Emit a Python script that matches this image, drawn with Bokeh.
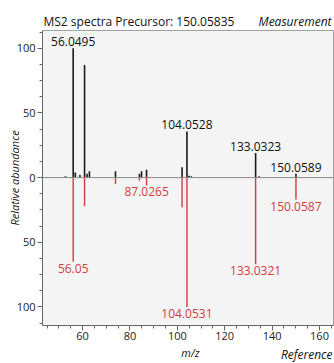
from bokeh.plotting import figure
from bokeh.layouts import column
from bokeh.models import Label, Span, FixedTicker, Range1d, ColumnDataSource
from bokeh.embed import file_html
from bokeh.resources import INLINE
from bokeh.core.properties import value

# Measurement peaks (positive)
meas_mz = [52.8, 56.0495, 56.95, 58.9, 60.85, 61.9, 62.9, 73.9, 84.0, 84.9, 87.0, 102.0, 104.0528, 104.9, 105.9, 133.0323, 134.5, 150.0589]
meas_int = [1, 100, 4, 2, 87, 3, 5, 5, 3, 5, 6, 8, 35.7, 1.5, 1, 19, 1, 3]

# Reference peaks (drawn downward)
ref_mz = [56.05, 60.85, 73.9, 84.0, 87.0265, 102.0, 104.0531, 133.0321, 150.0587]
ref_int = [65, 22, 5, 2.5, 6, 23, 100, 67, 17]

# Annotated peaks
meas_lab_mz = [56.0495, 104.0528, 133.0323, 150.0589]
meas_lab_int = [100, 35.7, 19, 3]
meas_lab_txt = ["56.0495", "104.0528", "133.0323", "150.0589"]

ref_lab_mz = [56.05, 87.0265, 104.0531, 133.0321, 150.0587]
ref_lab_int = [65, 6, 100, 67, 17]
ref_lab_txt = ["56.05", "87.0265", "104.0531", "133.0321", "150.0587"]

x_ticks = [60, 80, 100, 120, 140, 160]
y_ticks = [-100, -50, 0, 50, 100]
y_tick_labels = ["100", "50", "0", "50", "100"]

FONT = "Open Sans"
RED = "#d23b3f"
W = 334
LEFT = 42
RIGHT = 1


def strip(h):
    f = figure(width=W, height=h, x_range=Range1d(0, 1), y_range=Range1d(0, 1),
               x_axis_type=None, y_axis_type=None, toolbar_location=None,
               output_backend="svg", min_border_left=LEFT, min_border_right=RIGHT,
               min_border_top=0, min_border_bottom=0, outline_line_color=None)
    f.grid.visible = False
    f.background_fill_color = "white"
    return f


def lab(fig, text, x, y, align="left", italic=False, size="12px", color="#111111"):
    fig.add_layout(Label(x=x, y=y, x_units="screen", y_units="screen", text=text,
                         text_align=align, text_baseline="middle",
                         text_font=FONT, text_font_size=size, text_color=color,
                         text_font_style="italic" if italic else "normal"))


# top strip: title + Measurement (positions relative to the aligned frame)
top = strip(29)
lab(top, "MS2 spectra Precursor: 150.05835", 1, 8)
lab(top, "Measurement", 289, 8, align="right", italic=True)

# main plot
p = figure(width=W, height=316, output_backend="svg", toolbar_location=None,
           x_range=Range1d(43.1, 165.9), y_range=Range1d(-114.3, 113.7),
           min_border_left=LEFT, min_border_right=RIGHT, min_border_top=1, min_border_bottom=20)
p.background_fill_color = "#f4f4f4"
p.border_fill_color = "white"
p.outline_line_color = "#a0a0a0"
p.grid.visible = False

p.add_layout(Span(location=0, dimension="width", line_color="#8a8a8a", line_width=1))

ms = ColumnDataSource(dict(x=meas_mz, y0=[0] * len(meas_mz), y1=meas_int))
p.segment(x0="x", y0="y0", x1="x", y1="y1", source=ms, line_color="#1a1a1a", line_width=1.6)
rs = ColumnDataSource(dict(x=ref_mz, y0=[0] * len(ref_mz), y1=[-v for v in ref_int]))
p.segment(x0="x", y0="y0", x1="x", y1="y1", source=rs, line_color=RED, line_width=1.4)

ml = ColumnDataSource(dict(x=meas_lab_mz, y=meas_lab_int, t=meas_lab_txt))
p.text(x="x", y="y", text="t", source=ml, text_align="center", text_baseline="bottom",
       y_offset=-2, text_font=value(FONT), text_font_size="12px", text_color="#111111")
rl = ColumnDataSource(dict(x=ref_lab_mz, y=[-v for v in ref_lab_int], t=ref_lab_txt))
p.text(x="x", y="y", text="t", source=rl, text_align="center", text_baseline="top",
       y_offset=2, text_font=value(FONT), text_font_size="12px", text_color=RED)

xa = p.xaxis[0]
xa.ticker = FixedTicker(ticks=x_ticks, minor_ticks=list(range(45, 166, 5)))
ya = p.yaxis[0]
ya.ticker = FixedTicker(ticks=y_ticks, minor_ticks=[k * 12.5 for k in range(-9, 10)])
ya.major_label_overrides = {t: l for t, l in zip(y_ticks, y_tick_labels)}
for ax in (xa, ya):
    ax.axis_line_color = "#666666"
    ax.major_tick_line_color = "#666666"
    ax.minor_tick_line_color = "#666666"
    ax.major_tick_out = 5
    ax.major_tick_in = 0
    ax.minor_tick_out = 3
    ax.minor_tick_in = 0
    ax.major_label_text_font = FONT
    ax.major_label_text_font_size = "11px"
    ax.major_label_text_color = "#222222"
xa.major_label_standoff = 1
ya.major_label_standoff = 2
ya.axis_label = "Relative abundance"
ya.axis_label_text_font = FONT
ya.axis_label_text_font_size = "11px"
ya.axis_label_text_font_style = "italic"
ya.axis_label_text_color = "#222222"
ya.axis_label_standoff = -8

# bottom strip: m/z + Reference
bot = strip(18)
lab(bot, "m/z", 148, 11, align="center", italic=True, size="11px")
lab(bot, "Reference", 290, 9, align="right", italic=True)

layout = column(top, p, bot, spacing=0)
open("out.html", "w").write(file_html(layout, INLINE))
